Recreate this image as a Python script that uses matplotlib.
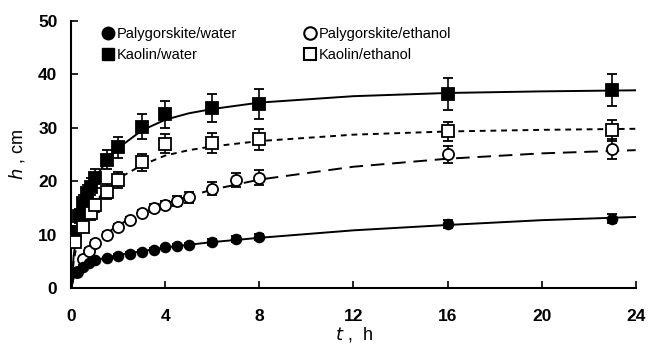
import numpy as np
import matplotlib
matplotlib.use("Agg")
import matplotlib.pyplot as plt
from matplotlib.lines import Line2D

plt.rcParams['font.family'] = ['Liberation Sans', 'DejaVu Sans']

#-------------------- measured points --------------------
# Palygorskite / water (filled circles)
t_pw = [0.25, 0.5, 0.75, 1.0, 1.5, 2.0, 2.5, 3.0, 3.5, 4.0, 4.5, 5.0, 6.0, 7.0, 8.0, 16.0, 23.0]
h_pw = [3.0, 4.0, 4.7, 5.2, 5.6, 6.0, 6.4, 6.8, 7.2, 7.6, 7.9, 8.1, 8.6, 9.2, 9.6, 12.0, 13.0]
e_pw = [0.3, 0.3, 0.3, 0.3, 0.3, 0.3, 0.3, 0.3, 0.3, 0.3, 0.4, 0.4, 0.5, 0.5, 0.6, 0.8, 0.9]

# Palygorskite / ethanol (open circles)
t_pe = [0.25, 0.5, 0.75, 1.0, 1.5, 2.0, 2.5, 3.0, 3.5, 4.0, 4.5, 5.0, 6.0, 7.0, 8.0, 16.0, 23.0]
h_pe = [3.0, 5.5, 7.0, 8.5, 10.0, 11.5, 12.7, 14.0, 15.0, 15.5, 16.3, 17.0, 18.6, 20.2, 20.6, 25.0, 26.0]
e_pe = [0.4, 0.4, 0.4, 0.5, 0.5, 0.5, 0.6, 0.6, 0.7, 0.8, 0.9, 1.0, 1.2, 1.3, 1.4, 1.6, 1.8]

# Kaolin / water (filled squares)
t_kw = [0.17, 0.33, 0.5, 0.67, 0.83, 1.0, 1.5, 2.0, 3.0, 4.0, 6.0, 8.0, 16.0, 23.0]
h_kw = [10.5, 13.5, 16.0, 17.8, 19.0, 20.5, 24.0, 26.3, 30.2, 32.5, 33.7, 34.4, 36.3, 37.0]
e_kw = [1.2, 1.3, 1.4, 1.5, 1.6, 1.7, 1.8, 2.0, 2.3, 2.5, 2.7, 2.8, 3.0, 3.0]

# Kaolin / ethanol (open squares)
t_ke = [0.17, 0.5, 0.83, 1.0, 1.5, 2.0, 3.0, 4.0, 6.0, 8.0, 16.0, 23.0]
h_ke = [8.6, 11.4, 14.0, 15.5, 18.0, 20.3, 23.5, 27.0, 27.2, 27.8, 29.3, 29.5]
e_ke = [1.0, 1.0, 1.2, 1.2, 1.4, 1.5, 1.6, 1.8, 1.9, 2.0, 1.8, 2.0]

#-------------------- fitted curves --------------------
t_fit = [0.0, 0.1, 0.25, 0.5, 0.75, 1.0, 1.5, 2.0, 3.0, 4.0, 5.0, 6.0, 8.0, 12.0, 16.0, 20.0, 24.0]
fit_pw = [0.0, 2.0, 3.1, 4.1, 4.7, 5.2, 5.7, 6.2, 6.9, 7.6, 8.1, 8.6, 9.4, 10.8, 11.8, 12.7, 13.3]
fit_pe = [0.0, 2.0, 3.5, 5.5, 7.0, 8.3, 10.2, 11.8, 14.0, 15.8, 17.2, 18.4, 20.3, 22.7, 24.2, 25.2, 25.8]
fit_kw = [0.0, 6.0, 11.0, 15.5, 18.3, 20.5, 23.8, 26.2, 29.5, 31.5, 32.7, 33.5, 34.7, 35.9, 36.5, 36.8, 37.0]
fit_ke = [0.0, 5.0, 8.5, 12.0, 14.3, 16.0, 18.5, 20.5, 23.0, 24.8, 25.8, 26.5, 27.5, 28.7, 29.3, 29.6, 29.8]

x_ticks = [0, 4, 8, 12, 16, 20, 24]
y_ticks = [0, 10, 20, 30, 40, 50]


def main():
    fig = plt.figure(figsize=(6.54, 3.53), dpi=100)
    ax = fig.add_axes([0.109, 0.184, 0.863, 0.757])

    # curves
    ax.plot(t_fit, fit_kw, color='black', lw=1.4, ls='-', zorder=1)
    ax.plot(t_fit, fit_pw, color='black', lw=1.4, ls='-', zorder=1)
    ax.plot(t_fit, fit_ke, color='black', lw=1.4, ls=(0, (3, 2.5)), zorder=1)
    ax.plot(t_fit, fit_pe, color='black', lw=1.4, ls=(0, (7, 4)), zorder=1)

    ebkw = dict(ls='none', ecolor='black', elinewidth=1.2, capsize=3.5, capthick=1.4,
                markeredgecolor='black', markeredgewidth=1.3, zorder=3)
    ax.errorbar(t_kw, h_kw, yerr=e_kw, fmt='s', markersize=8, markerfacecolor='black', **ebkw)
    ax.errorbar(t_ke, h_ke, yerr=e_ke, fmt='s', markersize=8, markerfacecolor='white', **ebkw)
    ax.errorbar(t_pe, h_pe, yerr=e_pe, fmt='o', markersize=8, markerfacecolor='white', **ebkw)
    ax.errorbar(t_pw, h_pw, yerr=e_pw, fmt='o', markersize=7, markerfacecolor='black', **ebkw)

    ax.set_xlim(0, 24)
    ax.set_ylim(0, 50)
    ax.set_xticks(x_ticks)
    ax.set_yticks(y_ticks)
    ax.tick_params(direction='in', length=5, width=1.2, labelsize=12.5)
    ax.tick_params(axis='x', pad=15)
    ax.tick_params(axis='y', pad=10)
    for lab in ax.get_xticklabels() + ax.get_yticklabels():
        lab.set_fontweight('bold')
    for s in ['top', 'right']:
        ax.spines[s].set_visible(False)
    for s in ['left', 'bottom']:
        ax.spines[s].set_linewidth(1.5)
    ax.spines['bottom'].set_bounds(0, 24)

    ax.set_xlabel(r'$t$ ,  h', fontsize=13, labelpad=1)
    ax.set_ylabel(r'$h$ , cm', fontsize=13, labelpad=8)

    # legend
    handles = [
        Line2D([], [], ls='none', marker='o', ms=9, mfc='black', mec='black'),
        Line2D([], [], ls='none', marker='s', ms=9, mfc='black', mec='black'),
        Line2D([], [], ls='none', marker='o', ms=9, mfc='white', mec='black', mew=1.5),
        Line2D([], [], ls='none', marker='s', ms=9, mfc='white', mec='black', mew=1.5),
    ]
    labels = ['Palygorskite/water', 'Kaolin/water', 'Palygorskite/ethanol', 'Kaolin/ethanol']
    ax.legend(handles, labels, ncol=2, frameon=False, loc='upper left',
              bbox_to_anchor=(0.045, 0.997), fontsize=10.5, handlelength=0.8,
              handletextpad=0.2, columnspacing=4.6, labelspacing=0.45, borderaxespad=0)

    fig.savefig('out.png', dpi=100)


if __name__ == "__main__":
    main()
